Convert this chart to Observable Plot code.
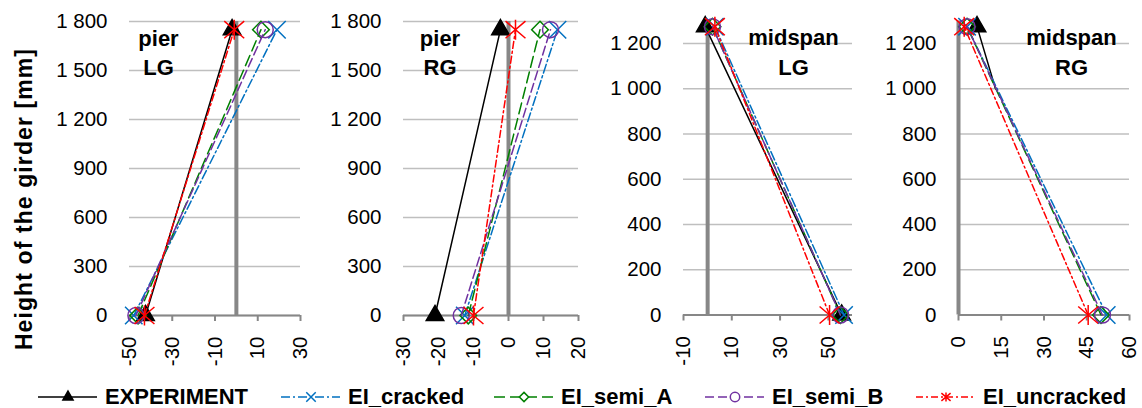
<!DOCTYPE html>
<html>
<head>
<meta charset="utf-8">
<script src="https://cdn.jsdelivr.net/npm/d3@7"></script>
<script src="https://cdn.jsdelivr.net/npm/@observablehq/plot@0.6"></script>
<style>
  html, body { margin: 0; padding: 0; background: #fff; }
  body { font-family: "Liberation Sans", Arial, sans-serif; }
  #wrap { position: relative; width: 1142px; height: 408px; overflow: hidden; background: #fff; }
  #wrap svg.panel { position: absolute; left: 0; top: 0; }
  #ytitle { position: absolute; left: 24px; top: 199px; transform: translate(-50%, -50%) rotate(-90deg);
            white-space: nowrap; font-weight: bold; font-size: 23px; letter-spacing: 1.1px; color: #000; }
  #legend { position: absolute; left: 0; top: 382px; width: 1142px; height: 28px; }
  .litem { position: absolute; top: 0; height: 28px; }
  .litem svg { position: absolute; left: 0; top: 0; }
  .litem span { position: absolute; left: 67px; top: 3px; font-weight: bold; font-size: 22px; line-height: 24px; white-space: nowrap; color: #000; }
</style>
</head>
<body>
<div id="wrap">
  <div id="ytitle">Height of the girder [mm]</div>
  <div id="legend"></div>
</div>
<script>
// ---------- data ----------
const panelLabels = ["pier\nLG", "pier\nRG", "midspan\nLG", "midspan\nRG"];
const seriesNames = ["EXPERIMENT", "EI_cracked", "EI_semi_A", "EI_semi_B", "EI_uncracked"];

// height of the girder top (mm) per panel
const girderTop = [1750, 1750, 1275, 1275];

// values at the lower point and at the top, per panel
const expLowerHeight = [0, 0, 0, 1000];
const expLower      = [-42.5, -21, 55.5, 13];
const expUpper      = [-2, -2.3, -1, 6.5];
const crackedLower  = [-48, -12.5, 56.5, 52];
const crackedUpper  = [19, 14, 3, 3];
const semiALower    = [-46, -11.5, 55, 50];
const semiAUpper    = [11.5, 9, 2, 3];
const semiBLower    = [-47, -13.5, 55, 50.5];
const semiBUpper    = [13.5, 12, 2, 3];
const uncrackedLower = [-43, -10, 50.5, 45.5];
const uncrackedUpper = [-1, 2, 3, 2];

// axes (tick labels / domains)
const xDomains = [[-50, 30], [-30, 20], [-10, 60], [0, 60]];
const xTicks = [[-50, -30, -10, 10, 30], [-30, -20, -10, 0, 10, 20], [-10, 10, 30, 50], [0, 15, 30, 45, 60]];
const yDomains = [[0, 1800], [0, 1800], [0, 1300], [0, 1300]];
const yTicks = [
  [0, 300, 600, 900, 1200, 1500, 1800],
  [0, 300, 600, 900, 1200, 1500, 1800],
  [0, 200, 400, 600, 800, 1000, 1200],
  [0, 200, 400, 600, 800, 1000, 1200]
];

// ---------- styles / layout ----------
const W = 1142, H = 370;
const frames = [
  {left: 129, right: 300, top: 21, bottom: 315, labelAnchor: "top-left", labelDx: 29},
  {left: 403, right: 578, top: 21, bottom: 315, labelAnchor: "top-left", labelDx: 36.5},
  {left: 683, right: 852, top: 20.5, bottom: 314.5, labelAnchor: "top-right", labelDx: -59},
  {left: 958, right: 1129, top: 20.5, bottom: 314.5, labelAnchor: "top-right", labelDx: -58}
];

// Excel-like "star" marker: an X plus a vertical bar
const starSymbol = {
  draw(context, size) {
    const r = Math.sqrt(size / Math.PI);
    const a = r * 1.05, b = r * 0.9;
    context.moveTo(-a, -b); context.lineTo(a, b);
    context.moveTo(-a, b); context.lineTo(a, -b);
    context.moveTo(0, -r * 1.05); context.lineTo(0, r * 1.05);
  }
};

const styles = {
  "EXPERIMENT":   {color: "#000000", dash: null,        symbol: "triangle", r: 6.5, fill: "#000000", lsize: 45},
  "EI_cracked":   {color: "#0070C0", dash: "9,3,2,3",   symbol: "times",    r: 8,   fill: "none",    lsize: 60},
  "EI_semi_A":    {color: "#008000", dash: "11,5",      symbol: "diamond2", r: 7.5, fill: "none",    lsize: 55},
  "EI_semi_B":    {color: "#7030A0", dash: "9,4",       symbol: "circle",   r: 8,   fill: "none",    lsize: 70},
  "EI_uncracked": {color: "#FF0000", dash: "7,3,2,3",   symbol: starSymbol, r: 9.5, fill: "none",    lsize: 60}
};
const lowers = [expLower, crackedLower, semiALower, semiBLower, uncrackedLower];
const uppers = [expUpper, crackedUpper, semiAUpper, semiBUpper, uncrackedUpper];

const thousands = d3.formatLocale({decimal: ".", thousands: " ", grouping: [3], currency: ["", ""]}).format(",d");

function pointsFor(p) {
  const rows = [];
  seriesNames.forEach((s, k) => {
    const lowH = k === 0 ? expLowerHeight[p] : 0;
    rows.push({series: s, x: lowers[k][p], h: lowH, end: lowH === 0});
    rows.push({series: s, x: uppers[k][p], h: girderTop[p], end: true});
  });
  return rows;
}

const wrap = document.getElementById("wrap");

frames.forEach((f, p) => {
  const rows = pointsFor(p);
  const marks = [
    Plot.gridY(yTicks[p], {stroke: "#bfbfbf", strokeOpacity: 1, strokeWidth: 1.5}),
    Plot.ruleX([0], {stroke: "#878787", strokeWidth: 4}),
    Plot.ruleY([0], {stroke: "#878787", strokeWidth: 2}),
    Plot.axisY(yTicks[p], {tickSize: 0, tickPadding: 22, tickFormat: thousands, label: null, fontSize: 20.5}),
    Plot.axisX(xTicks[p], {tickSize: 6, tickRotate: -90, tickPadding: 15, stroke: "#878787", strokeWidth: 2,
                          label: null, fontSize: 20.5, tickFormat: d => String(d)})
  ];
  seriesNames.forEach(s => {
    const st = styles[s];
    const data = rows.filter(d => d.series === s);
    marks.push(Plot.line(data, {x: "x", y: "h", stroke: st.color, strokeWidth: 1.5,
                                strokeDasharray: st.dash || undefined}));
    marks.push(Plot.dot(data.filter(d => d.end), {x: "x", y: "h", symbol: st.symbol, r: st.r,
                                stroke: st.color, fill: st.fill, strokeWidth: 1.5}));
  });
  marks.push(Plot.text([panelLabels[p]], {frameAnchor: f.labelAnchor, text: d => d, dx: f.labelDx, dy: 3,
                                          lineAnchor: "top", textAnchor: "middle", fontWeight: "bold",
                                          fontSize: 22, lineHeight: 1.35, fill: "#000"}));
  const svg = Plot.plot({
    width: W, height: H,
    marginLeft: f.left, marginRight: W - f.right, marginTop: f.top, marginBottom: H - f.bottom,
    style: {background: "none", fontFamily: "'Liberation Sans', Arial, sans-serif", color: "#000", overflow: "visible"},
    x: {domain: xDomains[p]},
    y: {domain: yDomains[p]},
    marks
  });
  svg.classList.add("panel");
  wrap.insertBefore(svg, document.getElementById("ytitle"));
});

// ---------- legend ----------
const legendLeft = [38, 281, 494, 705, 916];
const legend = d3.select("#legend");
const symMap = {triangle: d3.symbolTriangle, times: d3.symbolTimes, diamond2: d3.symbolDiamond2,
                circle: d3.symbolCircle};
seriesNames.forEach((s, k) => {
  const st = styles[s];
  const item = legend.append("div").attr("class", "litem").style("left", legendLeft[k] + "px");
  const svg = item.append("svg").attr("width", 60).attr("height", 28);
  svg.append("line").attr("x1", 0).attr("x2", 59).attr("y1", 15).attr("y2", 15)
     .attr("stroke", st.color).attr("stroke-width", 1.5)
     .attr("stroke-dasharray", st.dash || null);
  const type = typeof st.symbol === "string" ? symMap[st.symbol] : st.symbol;
  svg.append("path").attr("transform", "translate(30,15)")
     .attr("d", d3.symbol(type, st.lsize)())
     .attr("stroke", st.color).attr("stroke-width", 1.5)
     .attr("fill", st.fill === "none" ? "#fff" : st.fill);
  item.append("span").text(s);
});
</script>
</body>
</html>
